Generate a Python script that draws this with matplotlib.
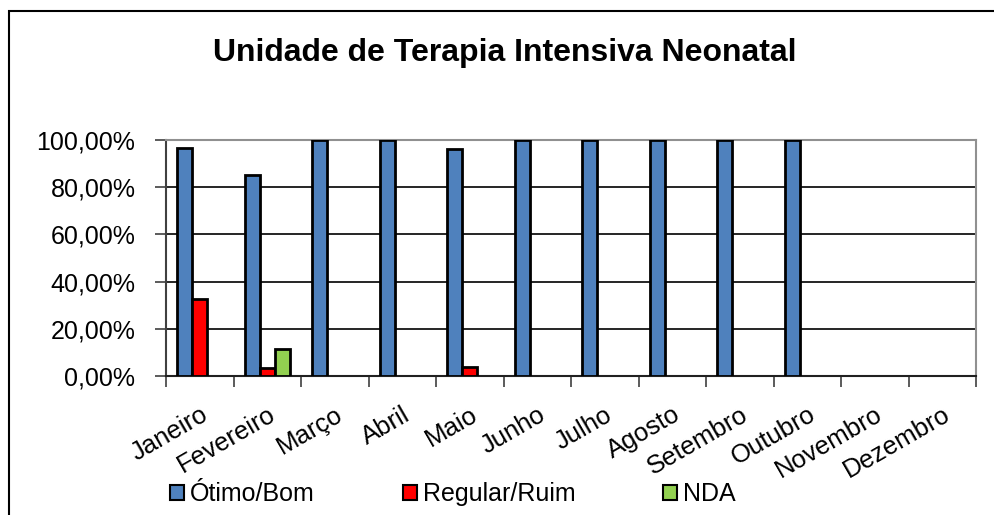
import numpy as np
import matplotlib
matplotlib.use("Agg")
import matplotlib.pyplot as plt
from matplotlib.patches import Patch, Rectangle

plt.rcParams['font.family'] = ['Liberation Sans', 'DejaVu Sans']

title = "Unidade de Terapia Intensiva Neonatal"
months = ["Janeiro", "Fevereiro", "Março", "Abril", "Maio", "Junho", "Julho",
          "Agosto", "Setembro", "Outubro", "Novembro", "Dezembro"]
series_names = ["Ótimo/Bom", "Regular/Ruim", "NDA"]
otimo = [96.5, 85.2, 100, 100, 96.0, 100, 100, 100, 100, 100, np.nan, np.nan]
regular = [32.5, 3.3, np.nan, np.nan, 3.7, np.nan, np.nan, np.nan, np.nan, np.nan, np.nan, np.nan]
nda = [np.nan, 11.3, np.nan, np.nan, np.nan, np.nan, np.nan, np.nan, np.nan, np.nan, np.nan, np.nan]
yticks = [0, 20, 40, 60, 80, 100]
ytick_labels = ["0,00%", "20,00%", "40,00%", "60,00%", "80,00%", "100,00%"]
colors = ["#4F81BD", "#FF0000", "#92D050"]

W, H = 994, 515
fig = plt.figure(figsize=(W / 100, H / 100), dpi=100)
ax = fig.add_axes([166 / W, 1 - 376 / H, (976 - 166) / W, (376 - 140) / H])

x = np.arange(len(months))
w = 1 / 4.5
for i, (vals, c) in enumerate(zip([otimo, regular, nda], colors)):
    ax.bar(x + (i - 1) * w, vals, width=w, color=c, edgecolor="black",
           linewidth=2, zorder=3, label=series_names[i])

ax.set_xlim(-0.5, len(months) - 0.5)
ax.set_ylim(0, 100)
ax.set_yticks(yticks)
ax.set_yticklabels(ytick_labels, fontsize=18)
ax.tick_params(axis='y', length=8, width=1.2, color='#404040', pad=14, direction='out')

ax.set_xticks(x)
ax.set_xticklabels(months, rotation=30, ha='right', va='top',
                   rotation_mode='anchor', fontsize=18.5)
ax.tick_params(axis='x', which='major', length=0, pad=19)
ax.set_xticks(np.arange(-0.5, len(months), 1), minor=True)
ax.tick_params(axis='x', which='minor', length=8, width=1.2, color='#404040', direction='out')

ax.yaxis.grid(True, color='black', linewidth=1.2, zorder=0)
ax.set_axisbelow(True)
for s in ['top', 'right']:
    ax.spines[s].set_color('#909090')
    ax.spines[s].set_linewidth(1.5)
ax.spines['left'].set_color('#404040')
ax.spines['left'].set_linewidth(1.5)
ax.spines['bottom'].set_color('#202020')
ax.spines['bottom'].set_linewidth(1.5)

fig.text(0.508, 1 - 53 / H, title, ha='center', va='center',
         fontsize=23, fontweight='bold')

handles = [Patch(facecolor=c, edgecolor='black', linewidth=1.5) for c in colors]
fig.legend(handles, series_names, loc='center left',
           bbox_to_anchor=(170 / W, 1 - 494 / H), ncol=3, frameon=False,
           fontsize=18, handlelength=0.56, handleheight=0.56, handletextpad=0.25,
           columnspacing=3.5, borderaxespad=0, borderpad=0)

fig.patches.append(Rectangle((9 / W, -0.1), 1.2, 1.1 - 11 / H, transform=fig.transFigure,
                             fill=False, edgecolor='black', linewidth=1.5))

fig.savefig("out.png", dpi=100)
